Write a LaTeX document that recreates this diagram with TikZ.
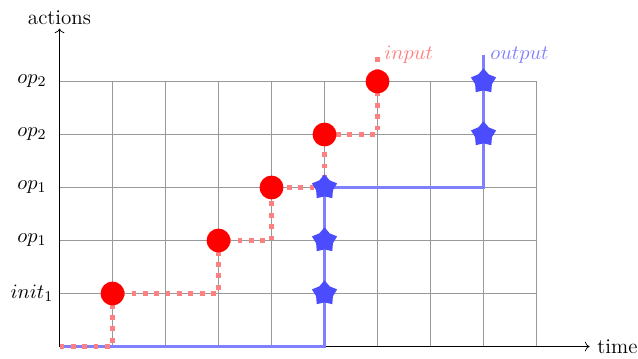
\documentclass[tikz,border=0pt]{standalone}
\usepackage{fontspec}
\usepackage{tikz}
\usetikzlibrary{arrows.meta, positioning, shapes.geometric}

\begin{document}
\begin{tikzpicture}[>=To,
    every node/.style={font=\fontsize{11.3}{13.6}\selectfont},
    inpath/.style={red!50, line width=2.6pt, dash pattern=on 2.6pt off 3.5pt},
    outpath/.style={blue!50, line width=2.1pt},
    indot/.style={circle, fill=red, inner sep=0pt, minimum size=0.45cm},
    outstar/.style={star, star points=5, fill=blue!70, inner sep=0pt,
                    minimum size=0.5cm},
    actlabel/.style={inner sep=0pt}]
  \useasboundingbox (-1.123,-0.217) rectangle (10.915,6.538);

  % grid and axes
  \draw[gray!80, thin] (0,0) grid (9,5);
  \draw[->] (0,0) -- (10,0) node[right, inner sep=4pt] (time) {time};
  \draw[->] (0,0) -- (0,6) node[above, inner sep=2pt] (actions) {actions};

  \node[actlabel] (a1) at (-0.52,1) {$init_1$};
  \node[actlabel] (a2) at (-0.52,2) {$op_1$};
  \node[actlabel] (a3) at (-0.52,3) {$op_1$};
  \node[actlabel] (a4) at (-0.52,4) {$op_2$};
  \node[actlabel] (a5) at (-0.52,5) {$op_2$};

  % output trace
  \coordinate (oend) at (8,5.5);
  \draw[outpath] (0,0) -- (5,0) -- (5,3) -- (8,3) -- (oend);
  \node[right, blue!50, inner sep=3.5pt] (outlbl) at (oend) {$output$};

  % input trace
  \coordinate (iend) at (6,5.5);
  \draw[inpath] (0,0) -- (1,0) -- (1,1) -- (3,1) -- (3,2) -- (4,2)
    -- (4,3) -- (5,3) -- (5,4) -- (6,4) -- (iend);
  \node[right, red!50, inner sep=3.5pt] (inlbl) at (iend) {$input$};

  \foreach \x/\y [count=\i] in {1/1, 3/2, 4/3, 5/4, 6/5}
    \node[indot] (in\i) at (\x,\y) {};
  \foreach \x/\y [count=\i] in {5/1, 5/2, 5/3, 8/4, 8/5}
    \node[outstar] (out\i) at (\x,\y) {};
\end{tikzpicture}
\end{document}
